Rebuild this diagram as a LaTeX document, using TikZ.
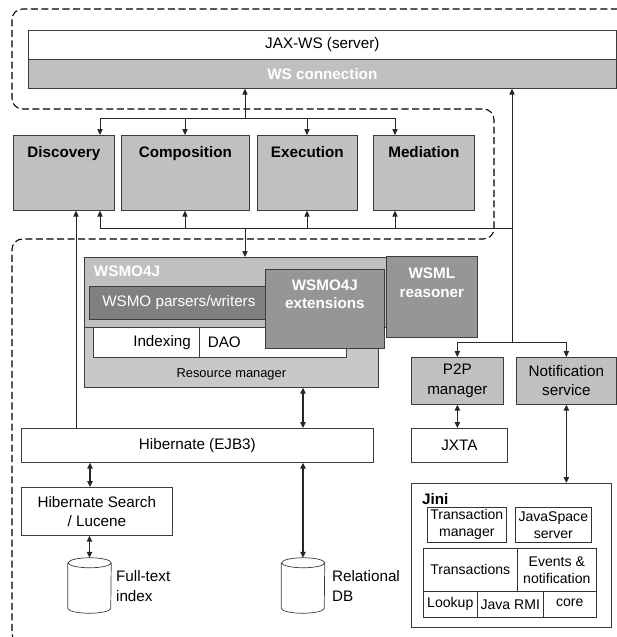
\documentclass[tikz,border=0pt]{standalone}
\usepackage{fontspec}
\setmainfont{Liberation Sans}
\usetikzlibrary{arrows.meta,positioning}

\definecolor{boxgray}{RGB}{192,192,192}
\definecolor{rmgray}{RGB}{200,200,200}
\definecolor{pargray}{RGB}{128,128,128}
\definecolor{extgray}{RGB}{150,150,150}
\definecolor{edge}{RGB}{60,60,60}

\tikzset{
  rect/.style n args={4}{at={(#1,#2)}, anchor=north west,
    minimum width={(#3-#1)*0.03cm}, minimum height={(#4-#2)*0.03cm}},
  box/.style={draw=edge, line width=0.6pt, inner sep=0pt, align=center},
  wbox/.style={box, fill=white},
  gbox/.style={box, fill=boxgray},
  dbox/.style={box, fill=extgray},
  hd/.style={font=\fontsize{13}{15.5}\selectfont\bfseries},
  jbox/.style={draw=black!80, line width=0.5pt, inner sep=0pt, align=center, font=\fontsize{12}{14.5}\selectfont},
  drum/.style={inner sep=0pt, minimum width=1.29cm, minimum height=1.65cm},
  cylline/.style={draw=edge, line width=0.6pt, fill=white},
  link/.style={draw=black!85, line width=0.6pt},
  dlink/.style={draw=black!85, line width=1pt, <->},
}
% cylinder drawn round a named node
\newcommand\drawdrum[1]{%
  \draw[cylline] ([yshift=-0.15cm]#1.north west) -- ([yshift=0.15cm]#1.south west)
    arc[start angle=180, end angle=360, x radius=0.645cm, y radius=0.15cm]
    -- ([yshift=-0.15cm]#1.north east)
    arc[start angle=0, end angle=360, x radius=0.645cm, y radius=0.15cm];}

\begin{document}
\begin{tikzpicture}[x=0.03cm, y=-0.03cm, font=\fontsize{13}{16.5}\selectfont, >={Triangle[length=5pt,width=4.5pt]}]
\clip (0,0) rectangle (617,637);
% dashed outline of the two parts
\draw[black, line width=0.9pt, dash pattern=on 6pt off 3pt, rounded corners=9pt]
  (660,9) -- (12,9) -- (12,109) -- (494,109) -- (494,239) -- (12,239) -- (12,644) -- (100,644);

% JAX-WS server
\node[wbox, rect={28}{30}{616}{59}] (jax) {JAX-WS (server)};
\node[gbox, rect={28}{59}{616}{88}, text=white, hd] (wsc) {WS connection};

% services
\node[gbox, rect={13}{135}{114}{210}, label={[hd, anchor=north, yshift=-6.5pt]north:Discovery}] (disc) {};
\node[gbox, rect={121}{135}{249}{210}, label={[hd, anchor=north, yshift=-6.5pt]north:Composition}] (comp) {};
\node[gbox, rect={257}{135}{357}{210}, label={[hd, anchor=north, yshift=-6.5pt]north:Execution}] (exe) {};
\node[gbox, rect={373}{135}{474}{210}, label={[hd, anchor=north, yshift=-6.5pt]north:Mediation}] (med) {};

% WSMO4J and resource manager
\node[box, fill=rmgray, rect={84}{257}{378}{387}, label={[font=\fontsize{11}{13}\selectfont, anchor=south, yshift=3pt]south:Resource manager}] (rm) {};
\node[box, fill=boxgray, rect={84}{257}{387}{327}, label={[hd, text=white, anchor=north west, xshift=5pt, yshift=-4pt]north west:WSMO4J}] (wsmo) {};
\node[box, fill=pargray, text=white, rect={89}{286}{268}{319}] (pars) {WSMO parsers/writers};
\node[wbox, rect={93}{327}{199}{357}, label={[anchor=east, xshift=-4pt]east:Indexing}] (idx) {};
\node[wbox, rect={199}{327}{346}{357}, label={[anchor=west, xshift=4pt]west:DAO}] (dao) {};
\node[dbox, rect={265}{269}{384}{348}, label={[hd, text=white, align=center, anchor=north, yshift=-6pt]north:WSMO4J\\extensions}] (ext) {};
\node[dbox, rect={386}{256}{477}{337}, label={[hd, text=white, align=center, anchor=north, yshift=-7pt]north:WSML\\reasoner}] (reas) {};

% persistence
\node[wbox, rect={21}{428}{373}{462}] (hib) {Hibernate (EJB3)};
\node[wbox, rect={21}{487}{172}{535}] (hsearch) {Hibernate Search\\/ Lucene};
\node[drum] (ftidx) at (89.5,585.5) {};
\drawdrum{ftidx}
\node[anchor=west, align=left] (ftlbl) at (112,586) {Full-text\\index};
\node[drum] (reldb) at (303,585.5) {};
\drawdrum{reldb}
\node[anchor=west, align=left] (rellbl) at (328,586) {Relational\\DB};

% P2P and notification
\node[gbox, rect={411}{357}{503}{404}] (p2p) {P2P\\manager};
\node[gbox, rect={516}{357}{616}{404}] (notif) {Notification\\service};
\node[wbox, rect={411}{428}{507}{462}] (jxta) {JXTA};
\node[wbox, rect={411}{483}{611}{627}, label={[hd, anchor=north west, xshift=6pt, yshift=-5pt]north west:Jini}] (jini) {};
\node[jbox, rect={427}{507}{506}{542}] (tm) {Transaction\\manager};
\node[jbox, rect={515}{507}{591}{542}] (jss) {JavaSpace\\server};
\node[jbox, rect={423}{548}{517}{591}] (trx) {Transactions};
\node[jbox, rect={517}{548}{596}{591}] (evt) {Events \&\\notification};
\node[jbox, rect={423}{591}{477}{617}] (lkp) {Lookup};
\node[jbox, rect={477}{591}{543}{617}] (rmi) {Java RMI};
\node[jbox, rect={543}{591}{596}{617}] (core) {\raisebox{3pt}{core}};

% connectors
\coordinate (tb) at (245,118);
\coordinate (bb) at (245,228);
\coordinate (rb) at (512,342);
\draw[link, ->] (tb) -- (tb |- wsc.south);
\draw[link] (100,118) -- (395,118);
\foreach \n/\x in {disc/100, comp/185, exe/307, med/395}
  \draw[link, ->] (\x,118) -- (\n.north -| \x,0);
\draw[link] (100,228) -- (512,228);
\foreach \n/\x in {disc/100, comp/185, exe/307, med/395}
  \draw[link, ->] (\x,228) -- (\n.south -| \x,0);
\draw[link, ->] (hib.north -| 76,0) -- (disc.south -| 76,0);
\draw[link, ->] (bb) -- (bb |- wsmo.north);
\draw[link, ->] (rb) -- (rb |- wsc.south);
\draw[link] (p2p.north |- rb) -- (notif.north |- rb);
\draw[link, ->] (p2p.north |- rb) -- (p2p.north);
\draw[link, ->] (notif.north |- rb) -- (notif.north);
\draw[dlink] (rm.south -| 303,0) -- (hib.north -| 303,0);
\draw[dlink] (hib.south -| reldb.north) -- (reldb.north);
\draw[dlink] (hib.south -| 90,0) -- (hsearch.north -| 90,0);
\draw[dlink] (hsearch.south -| ftidx.north) -- (ftidx.north);
\draw[dlink] (p2p.south) -- (p2p.south |- jxta.north);
\draw[dlink] (notif.south) -- (notif.south |- jini.north);
\end{tikzpicture}
\end{document}
